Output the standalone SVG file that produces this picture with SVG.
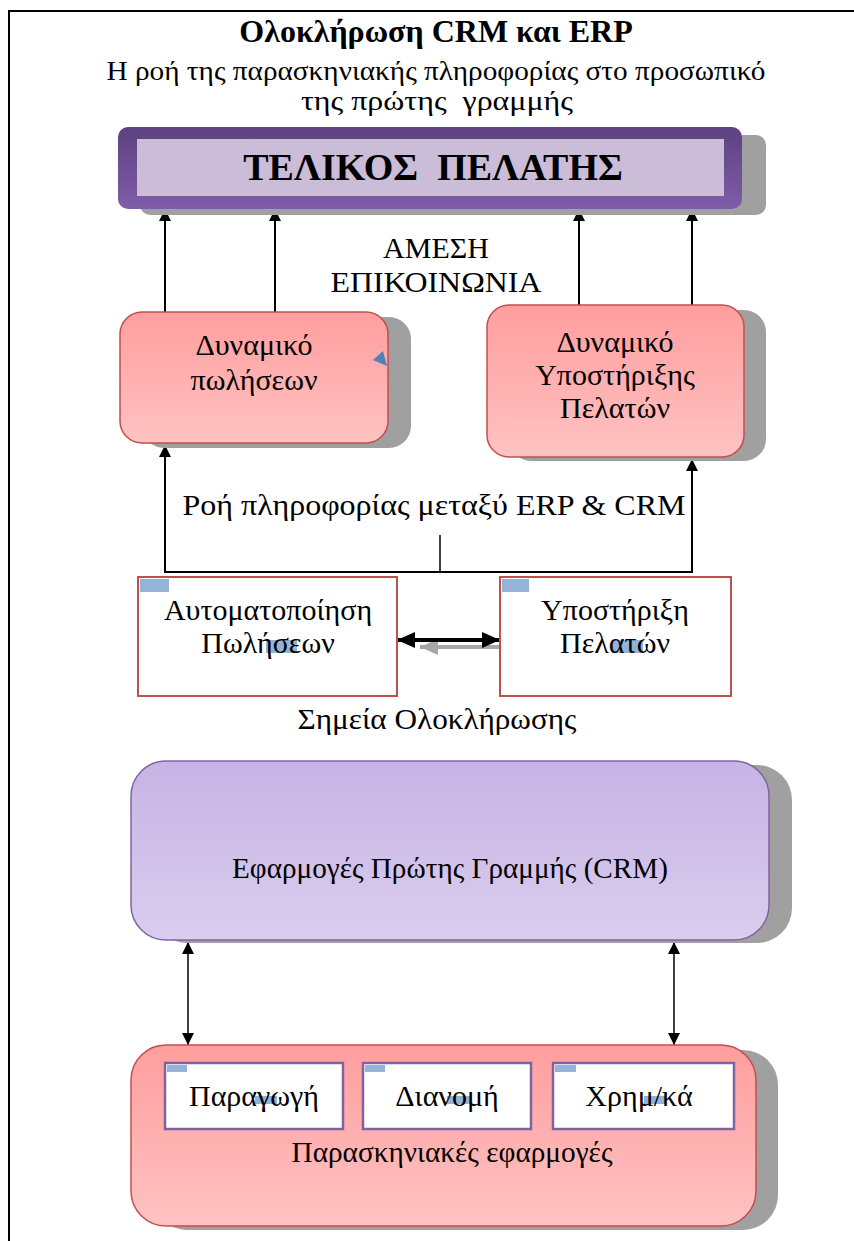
<svg xmlns="http://www.w3.org/2000/svg" width="854" height="1241" viewBox="0 0 854 1241">
  <style>
    text { font-family: "Liberation Serif", "Times New Roman", serif; fill: #000; text-anchor: middle; }
    .t26 { font-size: 30px; }
    .sub { font-size: 28px; }
    .title { font-size: 32px; font-weight: bold; }
    .shadow { fill: #a0a0a0; }
    .pink { fill: url(#pinkGrad); stroke: #c0504d; stroke-width: 1.5; }
    .lilac { fill: url(#lilacGrad); stroke: #8064a2; stroke-width: 1.5; }
    .ipoint { fill: #ffffff; stroke: #c0504d; stroke-width: 2; }
    .module { fill: #ffffff; stroke: #8064a2; stroke-width: 2.5; }
    .mark { fill: #95b3d7; }
    .link { fill: none; stroke: #000; stroke-width: 2; }
    .thin { fill: none; stroke: #000; stroke-width: 1.5; }
  </style>
  <defs>
    <linearGradient id="pinkGrad" x1="0" y1="0" x2="0" y2="1">
      <stop offset="0" stop-color="#ff9e9e"/>
      <stop offset="1" stop-color="#ffc2c2"/>
    </linearGradient>
    <linearGradient id="lilacGrad" x1="0" y1="0" x2="0" y2="1">
      <stop offset="0" stop-color="#c7b3e5"/>
      <stop offset="1" stop-color="#dacdee"/>
    </linearGradient>
    <linearGradient id="plumGrad" x1="0" y1="0" x2="0" y2="1">
      <stop offset="0" stop-color="#5d4180"/>
      <stop offset="1" stop-color="#7f5ca8"/>
    </linearGradient>
    <marker id="head" markerUnits="userSpaceOnUse" markerWidth="12" markerHeight="16" viewBox="0 0 12 16" refX="12" refY="8" orient="auto-start-reverse">
      <path d="M0,2 L12,8 L0,14 Z" fill="#000"/>
    </marker>
    <marker id="headBold" markerUnits="userSpaceOnUse" markerWidth="18" markerHeight="16" viewBox="0 0 18 16" refX="18" refY="8" orient="auto-start-reverse">
      <path d="M0,0 L18,8 L0,16 Z" fill="#000"/>
    </marker>
    <marker id="headGray" markerUnits="userSpaceOnUse" markerWidth="18" markerHeight="16" viewBox="0 0 18 16" refX="18" refY="8" orient="auto-start-reverse">
      <path d="M0,0 L18,8 L0,16 Z" fill="#a6a6a6"/>
    </marker>
  </defs>

  <rect width="854" height="1241" fill="#ffffff"/>
  <!-- page frame -->
  <rect x="9" y="11" width="900" height="1300" fill="none" stroke="#000" stroke-width="2"/>

  <!-- heading -->
  <g id="heading">
    <text class="title" x="436" y="42">Ολοκλήρωση CRM και ERP</text>
    <text class="sub" x="436" y="80" textLength="659" lengthAdjust="spacingAndGlyphs">Η ροή της παρασκηνιακής πληροφορίας στο προσωπικό</text>
    <text class="sub" x="437" y="110" textLength="272" lengthAdjust="spacingAndGlyphs" xml:space="preserve">της πρώτης  γραμμής</text>
  </g>

  <!-- connectors -->
  <g id="connectors">
    <line class="link" x1="165" y1="312" x2="165" y2="209" marker-end="url(#head)"/>
    <line class="link" x1="275" y1="312" x2="275" y2="209" marker-end="url(#head)"/>
    <line class="link" x1="579" y1="305" x2="579" y2="209" marker-end="url(#head)"/>
    <line class="link" x1="692" y1="305" x2="692" y2="209" marker-end="url(#head)"/>
    <line class="thin" x1="440" y1="535" x2="440" y2="572"/>
    <path class="link" d="M440,572 H165 V445" marker-end="url(#head)"/>
    <path class="link" d="M440,572 H692 V459" marker-end="url(#head)"/>
    <line x1="420" y1="647" x2="522" y2="647" stroke="#a6a6a6" stroke-width="4" marker-start="url(#headGray)" marker-end="url(#headGray)"/>
    <line x1="397" y1="640" x2="500" y2="640" stroke="#000" stroke-width="4" marker-start="url(#headBold)" marker-end="url(#headBold)"/>
    <line class="thin" x1="188" y1="942" x2="188" y2="1045" marker-start="url(#head)" marker-end="url(#head)"/>
    <line class="thin" x1="674" y1="942" x2="674" y2="1045" marker-start="url(#head)" marker-end="url(#head)"/>
  </g>

  <!-- labels on connectors -->
  <g id="labels">
    <text class="t26" x="436" y="258">ΑΜΕΣΗ</text>
    <text class="t26" x="436" y="292" textLength="211" lengthAdjust="spacingAndGlyphs">ΕΠΙΚΟΙΝΩΝΙΑ</text>
    <text class="t26" x="434" y="515" textLength="503" lengthAdjust="spacingAndGlyphs">Ροή πληροφορίας μεταξύ ERP &amp; CRM</text>
    <text class="t26" x="437" y="729" textLength="279" lengthAdjust="spacingAndGlyphs">Σημεία Ολοκλήρωσης</text>
  </g>

  <!-- end customer -->
  <g id="end-customer">
    <rect class="shadow" x="140" y="135" width="626" height="80" rx="10"/>
    <rect x="118" y="127" width="624" height="82" rx="10" fill="url(#plumGrad)"/>
    <rect x="137" y="139" width="587" height="57" fill="#cbbdd8"/>
    <text x="433" y="180" font-size="38" font-weight="bold" xml:space="preserve">ΤΕΛΙΚΟΣ  ΠΕΛΑΤΗΣ</text>
  </g>

  <!-- sales staff -->
  <g id="sales-staff">
    <rect class="shadow" x="142" y="317" width="269" height="131" rx="22"/>
    <rect class="pink" x="120" y="312" width="268" height="131" rx="22"/>
    <polygon points="373,360 383,351 387,366" fill="#4f81bd"/>
    <text class="t26" x="254" y="355">Δυναμικό</text>
    <text class="t26" x="254" y="390">πωλήσεων</text>
  </g>

  <!-- support staff -->
  <g id="support-staff">
    <rect class="shadow" x="509" y="310" width="257" height="151" rx="22"/>
    <rect class="pink" x="487" y="305" width="257" height="152" rx="22"/>
    <text class="t26" x="615" y="352">Δυναμικό</text>
    <text class="t26" x="615" y="385">Υποστήριξης</text>
    <text class="t26" x="615" y="418">Πελατών</text>
  </g>

  <!-- integration point: sales automation -->
  <g id="sales-automation">
    <rect class="ipoint" x="138" y="577" width="259" height="119"/>
    <rect class="mark" x="140" y="579" width="29" height="13"/>
    <rect class="mark" x="266" y="640" width="31" height="13"/>
    <text class="t26" x="268" y="620">Αυτοματοποίηση</text>
    <text class="t26" x="268" y="653">Πωλήσεων</text>
  </g>

  <!-- integration point: customer support -->
  <g id="customer-support">
    <rect class="ipoint" x="500" y="577" width="231" height="119"/>
    <rect class="mark" x="502" y="579" width="27" height="13"/>
    <rect class="mark" x="612" y="640" width="31" height="13"/>
    <text class="t26" x="615" y="620">Υποστήριξη</text>
    <text class="t26" x="615" y="653">Πελατών</text>
  </g>

  <!-- front-line applications -->
  <g id="crm">
    <rect class="shadow" x="152" y="765" width="640" height="178" rx="35"/>
    <rect class="lilac" x="131" y="761" width="638" height="179" rx="35"/>
    <text class="t26" x="450" y="878" textLength="436" lengthAdjust="spacingAndGlyphs">Εφαρμογές Πρώτης Γραμμής (CRM)</text>
  </g>

  <!-- back-office applications -->
  <g id="back-office">
    <rect class="shadow" x="152" y="1050" width="626" height="180" rx="35"/>
    <rect class="pink" x="131" y="1045" width="625" height="181" rx="35"/>
    <text class="t26" x="452" y="1162" textLength="321" lengthAdjust="spacingAndGlyphs">Παρασκηνιακές εφαρμογές</text>
  </g>

  <g id="production">
    <rect class="module" x="165" y="1063" width="178" height="66"/>
    <rect class="mark" x="167" y="1065" width="20" height="7"/>
    <rect class="mark" x="255" y="1096" width="22" height="8"/>
    <text class="t26" x="254" y="1106">Παραγωγή</text>
  </g>

  <g id="distribution">
    <rect class="module" x="363" y="1063" width="168" height="66"/>
    <rect class="mark" x="365" y="1065" width="20" height="7"/>
    <rect class="mark" x="447" y="1096" width="24" height="8"/>
    <text class="t26" x="447" y="1106">Διανομή</text>
  </g>

  <g id="finance">
    <rect class="module" x="553" y="1063" width="181" height="66"/>
    <rect class="mark" x="555" y="1065" width="21" height="7"/>
    <rect class="mark" x="644" y="1096" width="22" height="8"/>
    <text class="t26" x="639" y="1106">Χρημ/κά</text>
  </g>
</svg>
